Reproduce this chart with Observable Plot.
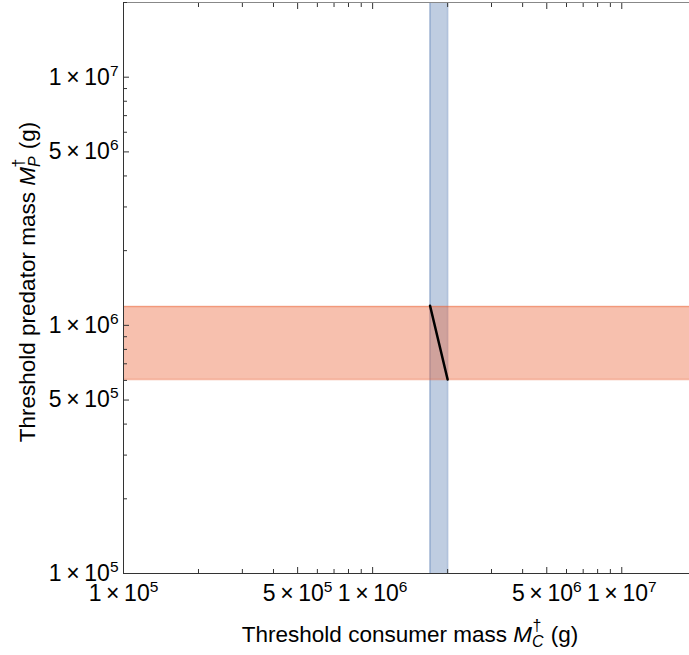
<!DOCTYPE html>
<html><head><meta charset="utf-8">
<script src="https://cdn.jsdelivr.net/npm/d3@7"></script>
<script src="https://cdn.jsdelivr.net/npm/@observablehq/plot@0.6"></script>
<style>body{margin:0;background:#fff} svg{display:block}</style>
</head><body><div id="chart"></div>
<script>
// ---- data ----
const xDomain = [1e5, 1.87e7];
const yDomain = [1e5, 2e7];
const majorTicks = [1e5, 5e5, 1e6, 5e6, 1e7];
const minorTicks = [2e5, 3e5, 4e5, 6e5, 7e5, 8e5, 9e5, 2e6, 3e6, 4e6, 6e6, 7e6, 8e6, 9e6];
const blueBand = [1.70e6, 2.0e6];      // consumer threshold range (x)
const redBand = [6.05e5, 1.19e6];      // predator threshold range (y)
const lineX = [1.70e6, 2.0e6];
const lineY = [1.20e6, 6.05e5];
const xTitle = ["Threshold consumer mass ", "M", "C", "†", " (g)"];
const yTitle = ["Threshold predator mass ", "M", "P", "†", " (g)"];

const blue = "rgb(94,129,181)";
const red = "rgb(235,98,53)";
const frameColor = "#333";

const fmt = d => {
  const e = Math.floor(Math.log10(d) + 1e-9);
  const m = Math.round(d / Math.pow(10, e));
  return `${m}\u2009×\u200910^${e}`;
};
const lineData = lineX.map((x, i) => ({x, y: lineY[i]}));

const plot = Plot.plot({
  width: 689, height: 655,
  marginLeft: 123, marginRight: 0, marginTop: 2, marginBottom: 82,
  x: {type: "log", domain: xDomain},
  y: {type: "log", domain: yDomain},
  style: {fontFamily: "'Liberation Sans', Arial, sans-serif", fontSize: "23px", color: "#000", background: "#fff"},
  marks: [
    Plot.rect([{lo: blueBand[0], hi: blueBand[1]}], {x1: "lo", x2: "hi", fill: blue, fillOpacity: 0.4}),
    Plot.ruleX(blueBand, {stroke: blue, strokeOpacity: 0.45, strokeWidth: 1.5}),
    Plot.rect([{lo: redBand[0], hi: redBand[1]}], {y1: "lo", y2: "hi", fill: red, fillOpacity: 0.4}),
    Plot.ruleY(redBand, {stroke: red, strokeOpacity: 0.45, strokeWidth: 1.5}),
    Plot.line(lineData, {x: "x", y: "y", stroke: "black", strokeWidth: 2.5}),
    Plot.ruleX([xDomain[0]], {stroke: frameColor}),
    Plot.ruleY([yDomain[0]], {stroke: frameColor}),
    Plot.ruleY([yDomain[1]], {stroke: "#888"}),
    // bottom axis
    Plot.axisX({anchor: "bottom", ticks: majorTicks, tickSize: 0, tickPadding: 11, tickFormat: fmt, label: null}),
    Plot.axisX({anchor: "bottom", ticks: majorTicks, tickSize: -6, tickFormat: () => "", label: null, stroke: frameColor}),
    Plot.axisX({anchor: "bottom", ticks: minorTicks, tickSize: -4, tickFormat: () => "", label: null, stroke: frameColor}),
    // top axis
    Plot.axisX({anchor: "top", ticks: majorTicks, tickSize: -6, tickFormat: () => "", label: null, stroke: frameColor}),
    Plot.axisX({anchor: "top", ticks: minorTicks, tickSize: -4, tickFormat: () => "", label: null, stroke: frameColor}),
    // left axis
    Plot.axisY({anchor: "left", ticks: majorTicks, tickSize: 0, tickPadding: 5, tickFormat: fmt, label: null}),
    Plot.axisY({anchor: "left", ticks: majorTicks, tickSize: -6, tickFormat: () => "", label: null, stroke: frameColor}),
    Plot.axisY({anchor: "left", ticks: minorTicks.concat([2e7]), tickSize: -4, tickFormat: () => "", label: null, stroke: frameColor})
  ]
});
document.getElementById("chart").appendChild(plot);

// superscript exponents in tick labels
const svg = d3.select(plot);
svg.selectAll('g[aria-label="x-axis tick label"] text, g[aria-label="y-axis tick label"] text').each(function () {
  const t = this.textContent;
  if (!t || t.indexOf("^") < 0) return;
  const [base, exp] = t.split("^");
  const sel = d3.select(this);
  sel.text(null);
  sel.append("tspan").text(base);
  sel.append("tspan").attr("dy", -9).attr("font-size", 15.5).text(exp);
});

function addTitle(g, parts) {
  g.append("tspan").text(parts[0]);
  g.append("tspan").attr("font-style", "italic").text(parts[1]);
  g.append("tspan").attr("font-style", "italic").attr("font-size", 16).attr("dy", 5).text(parts[2]);
  g.append("tspan").attr("font-size", 16).attr("dx", -11).attr("dy", -16).text(parts[3]);
  g.append("tspan").attr("dx", 3).attr("dy", 11).text(parts[4]);
}
const xt = svg.append("text").attr("x", 410).attr("y", 642).attr("text-anchor", "middle")
  .attr("font-size", 22.5).attr("fill", "#000");
addTitle(xt, xTitle);
const yt = svg.append("text").attr("transform", "translate(35,282) rotate(-90)").attr("text-anchor", "middle")
  .attr("font-size", 22.5).attr("fill", "#000");
addTitle(yt, yTitle);
</script>
</body></html>
